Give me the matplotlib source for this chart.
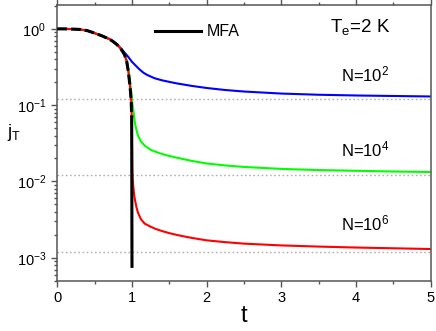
import matplotlib
matplotlib.use("Agg")
import matplotlib.pyplot as plt
from matplotlib.lines import Line2D
from matplotlib.ticker import MultipleLocator, LogLocator

plt.rcParams['font.family'] = ['Liberation Sans', 'DejaVu Sans']
plt.rcParams['mathtext.fontset'] = 'custom'
plt.rcParams['mathtext.rm'] = 'Liberation Sans'
plt.rcParams['mathtext.it'] = 'Liberation Sans:italic'

# values
t_mfa = [0, 0.1, 0.2, 0.3, 0.4, 0.5, 0.6, 0.7, 0.75, 0.8, 0.85, 0.9, 0.93,
         0.95, 0.97, 0.98, 0.99, 0.996, 1.0]
j_mfa = [1.0, 1.0, 0.995, 0.985, 0.95, 0.88, 0.81, 0.73, 0.68, 0.62, 0.55,
         0.46, 0.37, 0.28, 0.19, 0.15, 0.11, 0.07, 0.00077]

t_n2 = [0, 0.1, 0.2, 0.3, 0.4, 0.5, 0.6, 0.7, 0.8, 0.85, 0.9, 0.95, 1.0,
        1.05, 1.1, 1.15, 1.2, 1.3, 1.4, 1.5, 1.6, 1.8, 2.0, 2.25, 2.5,
        3.0, 3.5, 4.0, 4.5, 5.0]
j_n2 = [1.0, 1.0, 0.995, 0.985, 0.95, 0.88, 0.81, 0.74, 0.63, 0.56, 0.49,
        0.43, 0.37, 0.33, 0.295, 0.268, 0.25, 0.226, 0.212, 0.202, 0.193,
        0.179, 0.168, 0.158, 0.151, 0.142, 0.137, 0.134, 0.132, 0.13]

t_n4 = [0, 0.1, 0.2, 0.3, 0.4, 0.5, 0.6, 0.7, 0.75, 0.8, 0.85, 0.9, 0.93,
        0.95, 0.97, 0.99, 1.0, 1.01, 1.02, 1.03, 1.04, 1.06, 1.08, 1.12,
        1.17, 1.25, 1.35, 1.45, 1.6, 1.8, 2.0, 2.25, 2.5, 3.0, 3.5, 4.0,
        4.5, 5.0]
j_n4 = [1.0, 1.0, 0.995, 0.985, 0.95, 0.88, 0.81, 0.73, 0.68, 0.62, 0.55,
        0.47, 0.39, 0.31, 0.22, 0.15, 0.115, 0.097, 0.083, 0.069, 0.058,
        0.047, 0.040, 0.0335, 0.0295, 0.026, 0.0238, 0.0222, 0.0205, 0.0186,
        0.0172, 0.0162, 0.0155, 0.0146, 0.0141, 0.0138, 0.0135, 0.0133]

t_n6 = [0, 0.1, 0.2, 0.3, 0.4, 0.5, 0.6, 0.7, 0.75, 0.8, 0.85, 0.9, 0.93,
        0.95, 0.97, 0.98, 0.99, 0.996, 1.0, 1.004, 1.01, 1.017, 1.03, 1.04,
        1.06, 1.08, 1.12, 1.17, 1.25, 1.31, 1.4, 1.5, 1.6, 1.7, 1.8, 2.0,
        2.25, 2.5, 3.0, 3.5, 4.0, 4.5, 5.0]
j_n6 = [1.0, 1.0, 0.995, 0.985, 0.95, 0.88, 0.81, 0.73, 0.68, 0.62, 0.55,
        0.46, 0.37, 0.28, 0.19, 0.15, 0.11, 0.07, 0.03, 0.0142, 0.0105,
        0.0086, 0.0066, 0.0057, 0.0046, 0.0039, 0.0032, 0.0028, 0.00255,
        0.0024, 0.00224, 0.0021, 0.00199, 0.0019, 0.00182, 0.00169, 0.0016,
        0.00153, 0.00145, 0.0014, 0.00136, 0.00133, 0.0013]

asymptotes = [0.12, 0.012, 0.0012]
labels_n = [r'N=10$^\mathregular{2}$', r'N=10$^\mathregular{4}$', r'N=10$^\mathregular{6}$']

fig = plt.figure(figsize=(4.36, 3.31), dpi=100)
ax = fig.add_axes([0.1314, 0.152, 0.8566, 0.833])

for y in asymptotes:
    ax.axhline(y, color='#b0b0b0', lw=1.0, ls=(0, (1.2, 1.8)), zorder=1)

ax.plot(t_n2, j_n2, color='#0000ff', lw=1.5, zorder=2)
ax.plot(t_n4, j_n4, color='#00ff00', lw=1.5, zorder=2)
ax.plot(t_n6, j_n6, color='#ff0000', lw=1.5, zorder=2)

# MFA: dashed while overlapping the others, solid on the vertical drop
ax.plot(t_mfa[:-1], j_mfa[:-1], color='black', lw=2.2, dashes=(3.2, 1.3), zorder=3)
ax.plot(t_mfa[-2:], j_mfa[-2:], color='black', lw=2.2, zorder=3)

ax.set_yscale('log')
ax.set_xlim(0, 5)
ax.set_ylim(5e-4, 2.06)

ax.xaxis.set_major_locator(MultipleLocator(1))
ax.xaxis.set_minor_locator(MultipleLocator(0.5))
ax.yaxis.set_major_locator(LogLocator(base=10))
ax.yaxis.set_minor_locator(LogLocator(base=10, subs=range(2, 10)))

for s in ax.spines.values():
    s.set_color('#555555')
    s.set_linewidth(1.1)

ax.tick_params(which='both', direction='out', top=True, right=False,
               color='#555555', width=1.0)
ax.tick_params(which='major', length=4.5, labelsize=10.5)
ax.tick_params(which='minor', length=2.5)
ax.tick_params(axis='x', which='major', pad=3)

ax.set_xlabel('t', fontsize=17, labelpad=0)
ax.set_ylabel(r'j$_\mathregular{T}$', fontsize=13, rotation=0, ha='center', va='center')
ax.yaxis.set_label_coords(-0.116, 0.536)

leg = ax.legend(handles=[Line2D([], [], color='black', lw=2.2)], labels=['MFA'],
                loc='center left', bbox_to_anchor=(0.2616, 0.902), frameon=False,
                fontsize=11.5, handlelength=2.9, handletextpad=0.35,
                borderpad=0, borderaxespad=0)

ax.text(0.730, 0.903, r'T$_\mathregular{e}$=2 K', transform=ax.transAxes,
        fontsize=13.5, ha='left', va='baseline')
for yy, lab in zip([0.722, 0.450, 0.184], labels_n):
    ax.text(0.759, yy, lab, transform=ax.transAxes, fontsize=12,
            ha='left', va='baseline')

fig.savefig('out.png', dpi=100)
